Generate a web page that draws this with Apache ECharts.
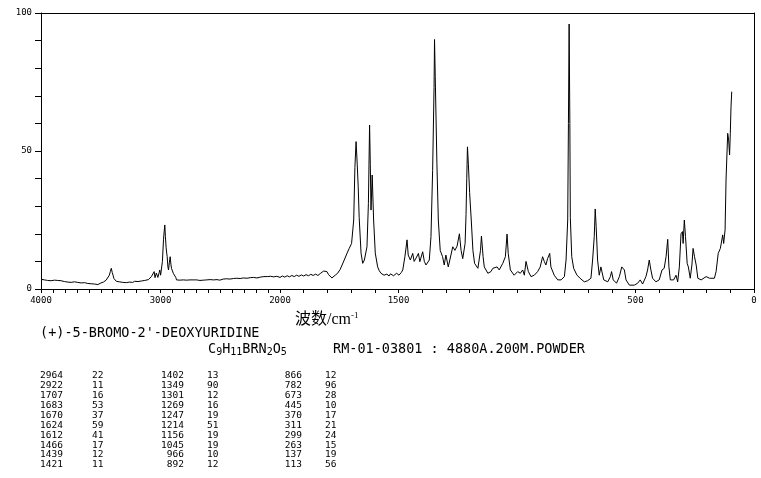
<!DOCTYPE html>
<html>
<head>
<meta charset="utf-8">
<script src="https://cdn.jsdelivr.net/npm/echarts@6/dist/echarts.min.js"></script>
<style>
html,body{margin:0;padding:0;background:#fff;}
#chart{width:761px;height:478px;}
</style>
</head>
<body>
<div id="chart"></div>
<script>
// ---- data: Raman spectrum, [wavenumber cm-1, relative intensity] ----
// 4000-2000 cm-1 segment (compressed scale)
const specHigh = [[4000,3.5],[3985,3.9],[3970,3.3],[3958,3.6],[3945,3.1],[3930,3.4],[3916,3.0],[3900,3.5],[3887,3.2],[3874,3.6],[3860,3.1],[3845,3.4],[3832,3.0],[3818,3.3],[3804,2.7],[3790,3.1],[3775,2.5],[3760,2.9],[3748,2.4],[3733,2.9],[3720,2.6],[3706,3.0],[3692,2.4],[3678,2.8],[3664,2.2],[3650,2.7],[3636,2.3],[3622,2.6],[3608,2.0],[3594,2.4],[3580,1.9],[3566,2.4],[3552,1.8],[3538,2.3],[3524,1.6],[3510,1.4],[3498,2.2],[3487,1.9],[3478,2.5],[3468,2.6],[3455,3.2],[3440,3.9],[3428,5.0],[3420,6.3],[3412,7.5],[3404,6.0],[3397,5.0],[3390,3.8],[3384,3.3],[3370,2.8],[3357,3.1],[3345,2.6],[3330,2.9],[3315,2.4],[3300,2.7],[3286,2.3],[3272,2.8],[3261,2.5],[3247,2.9],[3233,2.4],[3216,2.8],[3202,3.2],[3188,2.7],[3176,3.2],[3160,2.9],[3146,3.4],[3132,3.1],[3118,3.6],[3101,3.4],[3088,3.9],[3076,4.5],[3064,4.0],[3053,6.3],[3046,4.1],[3042,3.9],[3035,5.8],[3028,6.3],[3022,4.2],[3017,3.9],[3011,6.0],[3006,6.9],[2999,5.0],[2992,4.5],[2984,10],[2975,17.8],[2969,21],[2964,23.2],[2959,19],[2953,15],[2948,13],[2944,11.7],[2938,8],[2933,6.9],[2926,9.5],[2919,11.7],[2913,9.0],[2908,7.5],[2900,7.0],[2893,5.7],[2886,6.2],[2880,5.7],[2872,4.2],[2866,3.3],[2852,2.7],[2838,3.2],[2824,2.8],[2810,3.3],[2796,2.7],[2782,3.2],[2768,2.8],[2754,3.3],[2740,2.7],[2726,3.3],[2712,2.9],[2698,3.3],[2684,2.6],[2670,3.1],[2656,2.7],[2642,3.2],[2628,2.8],[2614,3.3],[2599,2.9],[2585,3.4],[2570,3.0],[2555,3.3],[2541,2.8],[2527,3.4],[2514,2.9],[2504,3.2],[2490,2.9],[2475,3.6],[2460,3.2],[2446,3.7],[2432,3.1],[2418,3.6],[2404,3.3],[2390,3.8],[2376,3.3],[2362,3.9],[2348,3.5],[2334,3.8],[2319,3.3],[2305,4.0],[2291,3.5],[2277,3.9],[2263,3.4],[2249,4.1],[2235,3.6],[2221,4.2],[2207,3.7],[2193,4.0],[2179,3.8],[2165,4.3],[2150,3.9],[2135,4.5],[2121,4.0],[2107,4.5],[2093,4.1],[2079,4.6],[2065,4.0],[2052,4.4],[2040,4.2],[2027,4.6],[2013,4.1],[2000,4.2]];
// 2000-0 cm-1 segment
const specLow = [[2000,4.2],[1990,4.7],[1980,4.3],[1970,4.8],[1960,4.4],[1950,4.9],[1940,4.5],[1930,5.0],[1920,4.6],[1910,5.1],[1900,4.7],[1890,5.2],[1880,4.8],[1870,5.3],[1860,4.9],[1850,5.4],[1840,4.9],[1830,5.6],[1822,6.0],[1816,6.5],[1808,6.6],[1802,6.3],[1795,5.2],[1788,4.5],[1781,4.0],[1774,4.6],[1767,5.0],[1762,5.4],[1757,5.7],[1751,6.2],[1746,7.1],[1742,7.4],[1738,7.5],[1729,10.5],[1717,13.0],[1708,14.7],[1698,16.5],[1689,25],[1684,44],[1679,53.4],[1674,45],[1670,37],[1666,26],[1658,13],[1651,9.3],[1644,10.5],[1633,15.3],[1627,31],[1622,59.4],[1619,45],[1616,28.6],[1611,41.3],[1605,25],[1598,13],[1588,8],[1581,6.6],[1574,5.7],[1567,5.2],[1561,5.0],[1555,5.6],[1549,5.4],[1544,4.8],[1540,4.7],[1534,5.5],[1527,5.3],[1521,4.8],[1515,4.9],[1508,5.7],[1502,5.6],[1498,5.0],[1494,5.2],[1488,6.0],[1482,6.9],[1473,11.7],[1464,17.8],[1459,12.3],[1450,10.5],[1440,12.9],[1434,10],[1426,11.2],[1416,12.9],[1410,9.9],[1398,13.5],[1391,10],[1384,8.7],[1370,10.5],[1363,19],[1356,43],[1350,73],[1348,90.4],[1345,77],[1338,45.6],[1332,25],[1324,14],[1314,11.7],[1307,8.7],[1300,12.3],[1290,8],[1283,7.5],[1271,15.3],[1262,14],[1253,15.5],[1243,20],[1236,14],[1229,11],[1219,16.5],[1215,27],[1212,40],[1209,51.5],[1205,45],[1200,35],[1193,25],[1186,14],[1179,9.3],[1165,7.5],[1154,14],[1150,19.2],[1143,11.7],[1138,8],[1123,5.7],[1110,6.3],[1102,7.5],[1096,6.9],[1084,8],[1075,6.9],[1060,9.3],[1049,11.7],[1042,19.9],[1037,12.9],[1028,6.9],[1012,5],[997,6.3],[986,5.7],[976,6.9],[969,5],[962,10],[952,6.3],[941,4.5],[927,5],[913,6.3],[902,8],[892,11.7],[885,10],[878,8.7],[871,11],[862,12.9],[857,8],[843,5],[828,3.3],[814,3.3],[800,4.5],[793,10.5],[786,25],[783,60],[780,96],[777,60],[775,26],[769,11.7],[761,7.5],[747,5],[730,3.6],[716,2.6],[702,3.0],[688,3.9],[681,10.5],[674,19],[670,29],[666,22.6],[660,10.5],[653,5],[646,8],[639,8.7],[634,3.3],[617,2.6],[606,4.5],[601,6.3],[594,3.3],[580,2.1],[568,4.5],[558,8],[554,8.7],[547,6.9],[540,3.3],[526,1.4],[505,1.4],[491,2.1],[480,3.3],[470,1.8],[456,4.5],[449,6.9],[442,10.5],[435,6.9],[428,3.9],[414,2.6],[400,3.3],[388,6.9],[379,7.5],[371,11.7],[364,18],[359,8],[353,3.3],[339,3.3],[329,5],[322,2.6],[315,8],[308,20],[302,20.8],[299,16.5],[294,25],[289,19],[282,9.3],[277,8],[269,3.9],[262,8.7],[257,14.7],[251,11.7],[244,8.7],[237,3.9],[223,3.3],[202,4.5],[188,3.9],[167,3.9],[160,6.3],[151,12.9],[142,14.7],[132,19.6],[128,16.5],[122,21.4],[118,39.5],[111,56.4],[107,54],[103,48.6],[100,56.4],[97,66],[94,71.5]];

// peak table
const peakWn  = [2964,2922,1707,1683,1670,1624,1612,1466,1439,1421,1402,1349,1301,1269,1247,1214,1156,1045,966,892,866,782,673,445,370,311,299,263,137,113];
const peakInt = [22,11,16,53,37,59,41,17,12,11,13,90,12,16,19,51,19,19,10,12,12,96,28,10,17,21,24,15,19,56];

// tick labels
const xLabelsHigh = [4000, 3000];
const xLabelsLow = [2000, 1500, 500, 0];
const yLabels = [0, 50, 100];

const compoundName = "(+)-5-BROMO-2'-DEOXYURIDINE";
const sampleInfo = "RM-01-03801 : 4880A.200M.POWDER";

// ---- chart ----
const chart = echarts.init(document.getElementById('chart'), null, {renderer: 'canvas'});
const tickFont = 'DejaVu Sans Mono';
const black = '#000';

const baseX = {
  type: 'value', inverse: true, interval: 100,
  axisLine: {show: true, onZero: false, lineStyle: {color: black, width: 1}},
  axisTick: {show: true, length: 4, lineStyle: {color: black}},
  splitLine: {show: false},
  axisLabel: {color: black, fontFamily: tickFont, fontSize: 9, margin: 7, showMinLabel: true, showMaxLabel: true}
};
const topX = {
  type: 'value', inverse: true, position: 'top',
  axisLine: {show: true, onZero: false, lineStyle: {color: black, width: 1}},
  axisTick: {show: false}, axisLabel: {show: false}, splitLine: {show: false}
};

const graphics = [];
// peak table
const colWnRight = [63, 184, 302];
const colIntLeft = [92, 207, 325];
for (let i = 0; i < peakWn.length; i++) {
  const col = Math.floor(i / 10), row = i % 10;
  const y = 375.5 + row * 9.94;
  graphics.push({type: 'text', x: colWnRight[col], y: y, silent: true,
    style: {text: String(peakWn[i]), fill: black, font: '9.5px "DejaVu Sans Mono"', align: 'right', verticalAlign: 'middle'}});
  graphics.push({type: 'text', x: colIntLeft[col], y: y, silent: true,
    style: {text: String(peakInt[i]), fill: black, font: '9.5px "DejaVu Sans Mono"', align: 'left', verticalAlign: 'middle'}});
}
// axis name
graphics.push({type: 'text', x: 295, y: 320, silent: true,
  style: {text: '波数/cm{sup|-1}', fill: black, font: '16px "Liberation Serif", "Noto Sans CJK SC"', align: 'left', verticalAlign: 'middle',
    rich: {sup: {fontSize: 9, fontFamily: 'Liberation Serif', verticalAlign: 'top', padding: [0, 0, 8, 0]}}}});
// compound name
graphics.push({type: 'text', x: 40, y: 333.5, silent: true,
  style: {text: compoundName, fill: black, font: '13.5px "DejaVu Sans Mono"', align: 'left', verticalAlign: 'middle'}});
// formula with subscripts
graphics.push({type: 'text', x: 208, y: 349, silent: true,
  style: {text: '{m|C}{s|9}{m|H}{s|11}{m|BRN}{s|2}{m|O}{s|5}', fill: black, align: 'left', verticalAlign: 'middle',
    rich: {m: {fontSize: 13.5, fontFamily: 'DejaVu Sans Mono', lineHeight: 16, verticalAlign: 'middle'},
           s: {fontSize: 10, fontFamily: 'DejaVu Sans Mono', lineHeight: 9, verticalAlign: 'bottom'}}}});
graphics.push({type: 'text', x: 333, y: 349, silent: true,
  style: {text: sampleInfo, fill: black, font: '13.5px "DejaVu Sans Mono"', align: 'left', verticalAlign: 'middle'}});

chart.setOption({
  animation: false,
  backgroundColor: '#fff',
  grid: [
    {left: 41, top: 13, width: 239, height: 276},
    {left: 280, top: 13, width: 474, height: 276}
  ],
  xAxis: [
    Object.assign({}, baseX, {gridIndex: 0, min: 2000, max: 4000,
      axisLabel: Object.assign({}, baseX.axisLabel, {formatter: v => xLabelsHigh.includes(v) ? String(v) : ''})}),
    Object.assign({}, baseX, {gridIndex: 1, min: 0, max: 2000,
      axisLabel: Object.assign({}, baseX.axisLabel, {formatter: v => xLabelsLow.includes(v) ? String(v) : ''})}),
    Object.assign({}, topX, {gridIndex: 0, min: 2000, max: 4000}),
    Object.assign({}, topX, {gridIndex: 1, min: 0, max: 2000})
  ],
  yAxis: [
    {gridIndex: 0, type: 'value', min: 0, max: 100, interval: 10,
      axisLine: {show: true, onZero: false, lineStyle: {color: black, width: 1}},
      axisTick: {show: true, length: 6, lineStyle: {color: black}},
      splitLine: {show: false},
      axisLabel: {color: black, fontFamily: tickFont, fontSize: 9, margin: 9,
        formatter: v => yLabels.includes(v) ? String(v) : ''}},
    {gridIndex: 1, type: 'value', min: 0, max: 100, position: 'right',
      axisLine: {show: true, onZero: false, lineStyle: {color: black, width: 1}},
      axisTick: {show: false}, axisLabel: {show: false}, splitLine: {show: false}}
  ],
  series: [
    {type: 'line', xAxisIndex: 0, yAxisIndex: 0, data: specHigh, showSymbol: false,
      lineStyle: {color: black, width: 1}, silent: true},
    {type: 'line', xAxisIndex: 1, yAxisIndex: 1, data: specLow, showSymbol: false,
      lineStyle: {color: black, width: 1}, silent: true}
  ],
  graphic: graphics
});
</script>
</body>
</html>
